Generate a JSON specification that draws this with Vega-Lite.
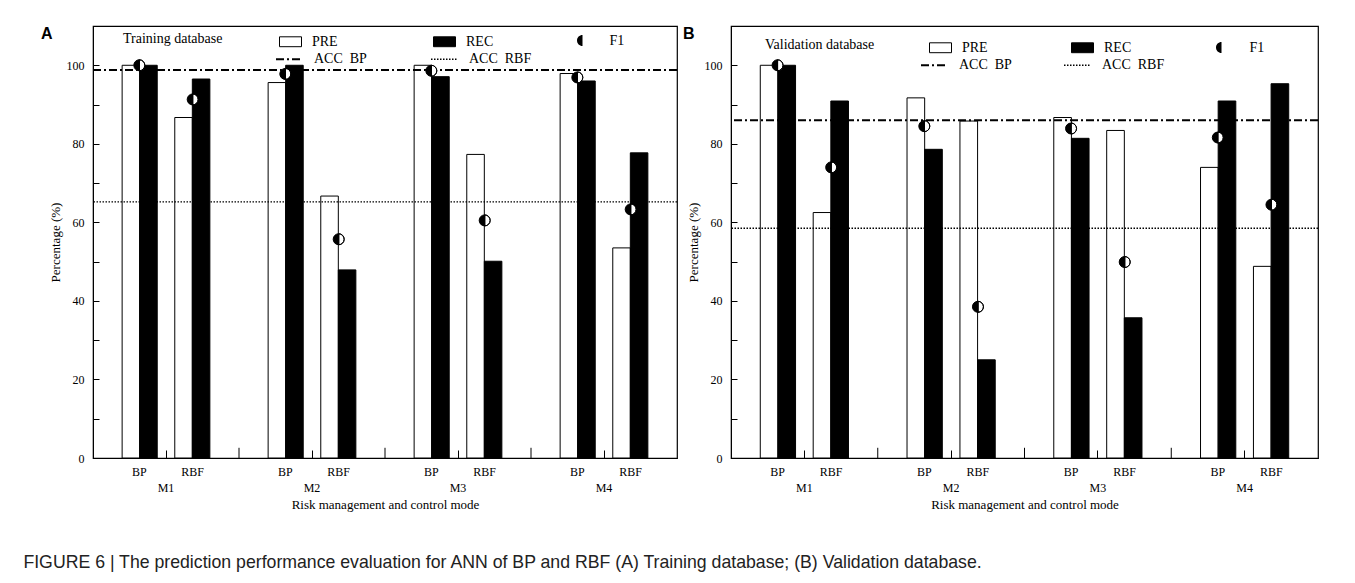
{
  "$schema": "https://vega.github.io/schema/vega-lite/v6.json",
  "background": "white",
  "padding": {"left": 23, "top": 25, "right": 5, "bottom": 5},
  "datasets": {
    "bars": [
      {"panel": "A", "group": "M1", "model": "BP", "metric": "PRE", "slot": "BP-PRE", "value": 100},
      {"panel": "A", "group": "M1", "model": "BP", "metric": "REC", "slot": "BP-REC", "value": 100},
      {"panel": "A", "group": "M1", "model": "RBF", "metric": "PRE", "slot": "RBF-PRE", "value": 86.7},
      {"panel": "A", "group": "M1", "model": "RBF", "metric": "REC", "slot": "RBF-REC", "value": 96.5},
      {"panel": "A", "group": "M2", "model": "BP", "metric": "PRE", "slot": "BP-PRE", "value": 95.6},
      {"panel": "A", "group": "M2", "model": "BP", "metric": "REC", "slot": "BP-REC", "value": 100},
      {"panel": "A", "group": "M2", "model": "RBF", "metric": "PRE", "slot": "RBF-PRE", "value": 66.7},
      {"panel": "A", "group": "M2", "model": "RBF", "metric": "REC", "slot": "RBF-REC", "value": 47.9},
      {"panel": "A", "group": "M3", "model": "BP", "metric": "PRE", "slot": "BP-PRE", "value": 100},
      {"panel": "A", "group": "M3", "model": "BP", "metric": "REC", "slot": "BP-REC", "value": 97.1},
      {"panel": "A", "group": "M3", "model": "RBF", "metric": "PRE", "slot": "RBF-PRE", "value": 77.3},
      {"panel": "A", "group": "M3", "model": "RBF", "metric": "REC", "slot": "RBF-REC", "value": 50.1},
      {"panel": "A", "group": "M4", "model": "BP", "metric": "PRE", "slot": "BP-PRE", "value": 97.9},
      {"panel": "A", "group": "M4", "model": "BP", "metric": "REC", "slot": "BP-REC", "value": 96.0},
      {"panel": "A", "group": "M4", "model": "RBF", "metric": "PRE", "slot": "RBF-PRE", "value": 53.5},
      {"panel": "A", "group": "M4", "model": "RBF", "metric": "REC", "slot": "RBF-REC", "value": 77.7},
      {"panel": "B", "group": "M1", "model": "BP", "metric": "PRE", "slot": "BP-PRE", "value": 100},
      {"panel": "B", "group": "M1", "model": "BP", "metric": "REC", "slot": "BP-REC", "value": 100},
      {"panel": "B", "group": "M1", "model": "RBF", "metric": "PRE", "slot": "RBF-PRE", "value": 62.5},
      {"panel": "B", "group": "M1", "model": "RBF", "metric": "REC", "slot": "RBF-REC", "value": 90.9},
      {"panel": "B", "group": "M2", "model": "BP", "metric": "PRE", "slot": "BP-PRE", "value": 91.7},
      {"panel": "B", "group": "M2", "model": "BP", "metric": "REC", "slot": "BP-REC", "value": 78.6},
      {"panel": "B", "group": "M2", "model": "RBF", "metric": "PRE", "slot": "RBF-PRE", "value": 85.8},
      {"panel": "B", "group": "M2", "model": "RBF", "metric": "REC", "slot": "RBF-REC", "value": 25.0},
      {"panel": "B", "group": "M3", "model": "BP", "metric": "PRE", "slot": "BP-PRE", "value": 86.7},
      {"panel": "B", "group": "M3", "model": "BP", "metric": "REC", "slot": "BP-REC", "value": 81.4},
      {"panel": "B", "group": "M3", "model": "RBF", "metric": "PRE", "slot": "RBF-PRE", "value": 83.4},
      {"panel": "B", "group": "M3", "model": "RBF", "metric": "REC", "slot": "RBF-REC", "value": 35.7},
      {"panel": "B", "group": "M4", "model": "BP", "metric": "PRE", "slot": "BP-PRE", "value": 74.0},
      {"panel": "B", "group": "M4", "model": "BP", "metric": "REC", "slot": "BP-REC", "value": 90.9},
      {"panel": "B", "group": "M4", "model": "RBF", "metric": "PRE", "slot": "RBF-PRE", "value": 48.8},
      {"panel": "B", "group": "M4", "model": "RBF", "metric": "REC", "slot": "RBF-REC", "value": 95.3}
    ],
    "f1": [
      {"panel": "A", "group": "M1", "model": "BP", "f1": 100},
      {"panel": "A", "group": "M1", "model": "RBF", "f1": 91.3},
      {"panel": "A", "group": "M2", "model": "BP", "f1": 97.8},
      {"panel": "A", "group": "M2", "model": "RBF", "f1": 55.7},
      {"panel": "A", "group": "M3", "model": "BP", "f1": 98.6},
      {"panel": "A", "group": "M3", "model": "RBF", "f1": 60.5},
      {"panel": "A", "group": "M4", "model": "BP", "f1": 96.9},
      {"panel": "A", "group": "M4", "model": "RBF", "f1": 63.3},
      {"panel": "B", "group": "M1", "model": "BP", "f1": 100},
      {"panel": "B", "group": "M1", "model": "RBF", "f1": 74.0},
      {"panel": "B", "group": "M2", "model": "BP", "f1": 84.5},
      {"panel": "B", "group": "M2", "model": "RBF", "f1": 38.5},
      {"panel": "B", "group": "M3", "model": "BP", "f1": 83.9},
      {"panel": "B", "group": "M3", "model": "RBF", "f1": 49.9},
      {"panel": "B", "group": "M4", "model": "BP", "f1": 81.6},
      {"panel": "B", "group": "M4", "model": "RBF", "f1": 64.5}
    ],
    "acc": [
      {"panel": "A", "name": "ACC\u00a0 BP", "value": 98.8},
      {"panel": "A", "name": "ACC\u00a0 RBF", "value": 65.2},
      {"panel": "B", "name": "ACC\u00a0 BP", "value": 86.0},
      {"panel": "B", "name": "ACC\u00a0 RBF", "value": 58.5}
    ],
    "bounds": [
      {"group": "M2"}, {"group": "M3"}, {"group": "M4"}
    ]
  },
  "title": {
    "text": "FIGURE 6 | The prediction performance evaluation for ANN of BP and RBF (A) Training database; (B) Validation database.",
    "orient": "bottom", "anchor": "start", "frame": "bounds",
    "font": "Liberation Sans", "fontSize": 17.7, "fontWeight": "normal", "color": "#222",
    "offset": 42, "dx": -17
  },
  "spacing": 3,
  "hconcat": [
    {
      "width": 584, "height": 432,
      "resolve": {"scale": {"xOffset": "independent"}},
      "layer": [
        {
          "data": {"name": "bars"},
          "transform": [{"filter": "datum.panel === 'A'"}],
          "mark": {"type": "bar", "stroke": "black", "strokeWidth": 1},
          "encoding": {
            "x": {"field": "group", "type": "nominal", "scale": {"domain": ["M1", "M2", "M3", "M4"], "paddingInner": 0, "paddingOuter": 0},
              "axis": {"title": "Risk management and control mode", "labelAngle": 0, "labelPadding": 32, "tickSize": -8, "titlePadding": 5}},
            "xOffset": {"field": "slot", "type": "nominal", "scale": {"domain": ["padL", "BP-PRE", "BP-REC", "gap", "RBF-PRE", "RBF-REC", "padR"], "paddingInner": 0, "paddingOuter": 0.66}},
            "y": {"field": "value", "type": "quantitative", "scale": {"domain": [0, 110], "nice": false},
              "axis": {"title": "Percentage (%)", "values": [0, 10, 20, 30, 40, 50, 60, 70, 80, 90, 100], "labelExpr": "datum.value % 20 === 0 ? datum.label : ''", "tickSize": -6, "labelPadding": 15, "titlePadding": 4}},
            "fill": {"field": "metric", "type": "nominal", "scale": {"domain": ["PRE", "REC"], "range": ["white", "black"]},
              "legend": {"title": "Training database", "orient": "none", "legendX": 30, "legendY": 4, "direction": "horizontal", "titleOrient": "left", "titlePadding": 56, "symbolType": "M-1,-0.45H1V0.45H-1Z", "symbolSize": 484, "symbolStrokeColor": "black", "symbolStrokeWidth": 1, "labelOffset": 10, "columnPadding": 93}}
          }
        },
        {
          "data": {"name": "acc"},
          "transform": [{"filter": "datum.panel === 'A'"}],
          "mark": {"type": "rule", "color": "black"},
          "encoding": {
            "y": {"field": "value", "type": "quantitative"},
            "strokeDash": {"field": "name", "type": "nominal", "scale": {"domain": ["ACC\u00a0 BP", "ACC\u00a0 RBF"], "range": [[8, 3, 2, 3], [1.5, 1.5]]},
              "legend": {"title": null, "orient": "none", "legendX": 182, "legendY": 18.5, "direction": "horizontal", "symbolType": "stroke", "symbolSize": 729, "symbolStrokeColor": "black", "symbolStrokeWidth": 1.5, "labelOffset": 10, "columnPadding": 61}},
            "strokeWidth": {"field": "name", "type": "nominal", "scale": {"domain": ["ACC\u00a0 BP", "ACC\u00a0 RBF"], "range": [2, 1.3]}, "legend": null}
          }
        },
        {
          "data": {"name": "bounds"},
          "mark": {"type": "rule", "color": "black", "strokeWidth": 1},
          "encoding": {
            "x": {"field": "group", "type": "nominal", "bandPosition": 0},
            "y": {"datum": 0},
            "y2": {"datum": 2.6},
            "opacity": {"datum": "A", "type": "nominal", "scale": {"domain": ["A"], "range": [1]},
              "legend": {"title": "A", "orient": "none", "legendX": -52, "legendY": 0, "titleFont": "Liberation Sans", "titleFontSize": 16, "titleFontWeight": "bold", "titleColor": "black", "titleBaseline": "top", "symbolType": "circle", "symbolSize": 0, "symbolStrokeWidth": 0, "symbolStrokeColor": "transparent", "symbolFillColor": "transparent", "symbolOpacity": 0, "labelOpacity": 0}}
          }
        },
        {
          "data": {"name": "f1"},
          "transform": [{"filter": "datum.panel === 'A'"}],
          "mark": {"type": "point", "shape": "circle", "filled": true, "color": "white", "size": 121, "opacity": 1},
          "encoding": {
            "x": {"field": "group", "type": "nominal"},
            "xOffset": {"field": "model", "type": "nominal", "scale": {"type": "point", "domain": ["BP", "RBF"], "padding": 0.868}},
            "y": {"field": "f1", "type": "quantitative"}
          }
        },
        {
          "data": {"name": "f1"},
          "transform": [{"filter": "datum.panel === 'A'"}],
          "mark": {"type": "point", "filled": true, "color": "black", "stroke": "black", "strokeWidth": 1, "size": 121, "opacity": 1},
          "encoding": {
            "x": {"field": "group", "type": "nominal"},
            "xOffset": {"field": "model", "type": "nominal", "scale": {"type": "point", "domain": ["BP", "RBF"], "padding": 0.868}},
            "y": {"field": "f1", "type": "quantitative"},
            "shape": {"datum": "F1", "scale": {"domain": ["F1"], "range": ["M0,-1A1,1,0,0,0,0,1Z M0,-1A1,1,0,0,1,0,1Z M0,1A1,1,0,0,0,0,-1Z"]},
              "legend": {"title": null, "orient": "none", "legendX": 482.5, "legendY": 7.5, "labelOffset": 20, "symbolSize": 121, "symbolFillColor": "black", "symbolStrokeColor": "black", "symbolStrokeWidth": 1}}
          }
        },
        {
          "data": {"name": "f1"},
          "transform": [{"filter": "datum.panel === 'A'"}],
          "mark": {"type": "text", "font": "Liberation Serif", "fontSize": 12, "baseline": "middle", "dy": 14, "color": "black"},
          "encoding": {
            "x": {"field": "group", "type": "nominal"},
            "xOffset": {"field": "model", "type": "nominal", "scale": {"type": "point", "domain": ["BP", "RBF"], "padding": 0.868}},
            "y": {"datum": 0},
            "text": {"field": "model"}
          }
        }
      ]
    },
    {
      "width": 587, "height": 432,
      "resolve": {"scale": {"xOffset": "independent"}},
      "layer": [
        {
          "data": {"name": "bars"},
          "transform": [{"filter": "datum.panel === 'B'"}],
          "mark": {"type": "bar", "stroke": "black", "strokeWidth": 1},
          "encoding": {
            "x": {"field": "group", "type": "nominal", "scale": {"domain": ["M1", "M2", "M3", "M4"], "paddingInner": 0, "paddingOuter": 0},
              "axis": {"title": "Risk management and control mode", "labelAngle": 0, "labelPadding": 32, "tickSize": -8, "titlePadding": 5}},
            "xOffset": {"field": "slot", "type": "nominal", "scale": {"domain": ["padL", "BP-PRE", "BP-REC", "gap", "RBF-PRE", "RBF-REC", "padR"], "paddingInner": 0, "paddingOuter": 0.66}},
            "y": {"field": "value", "type": "quantitative", "scale": {"domain": [0, 110], "nice": false},
              "axis": {"title": "Percentage (%)", "values": [0, 10, 20, 30, 40, 50, 60, 70, 80, 90, 100], "labelExpr": "datum.value % 20 === 0 ? datum.label : ''", "tickSize": -6, "labelPadding": 15, "titlePadding": 4}},
            "fill": {"field": "metric", "type": "nominal", "scale": {"domain": ["PRE", "REC"], "range": ["white", "black"]},
              "legend": {"title": "Validation database", "orient": "none", "legendX": 34, "legendY": 10, "direction": "horizontal", "titleOrient": "left", "titlePadding": 54, "symbolType": "M-1,-0.45H1V0.45H-1Z", "symbolSize": 484, "symbolStrokeColor": "black", "symbolStrokeWidth": 1, "labelOffset": 10, "columnPadding": 81}}
          }
        },
        {
          "data": {"name": "acc"},
          "transform": [{"filter": "datum.panel === 'B'"}],
          "mark": {"type": "rule", "color": "black"},
          "encoding": {
            "y": {"field": "value", "type": "quantitative"},
            "strokeDash": {"field": "name", "type": "nominal", "scale": {"domain": ["ACC\u00a0 BP", "ACC\u00a0 RBF"], "range": [[8, 3, 2, 3], [1.5, 1.5]]},
              "legend": {"title": null, "orient": "none", "legendX": 189, "legendY": 24.5, "direction": "horizontal", "symbolType": "stroke", "symbolSize": 729, "symbolStrokeColor": "black", "symbolStrokeWidth": 1.5, "labelOffset": 10, "columnPadding": 49}},
            "strokeWidth": {"field": "name", "type": "nominal", "scale": {"domain": ["ACC\u00a0 BP", "ACC\u00a0 RBF"], "range": [2, 1.3]}, "legend": null}
          }
        },
        {
          "data": {"name": "bounds"},
          "mark": {"type": "rule", "color": "black", "strokeWidth": 1},
          "encoding": {
            "x": {"field": "group", "type": "nominal", "bandPosition": 0},
            "y": {"datum": 0},
            "y2": {"datum": 2.6},
            "opacity": {"datum": "B", "type": "nominal", "scale": {"domain": ["B"], "range": [1]},
              "legend": {"title": "B", "orient": "none", "legendX": -48, "legendY": 0, "titleFont": "Liberation Sans", "titleFontSize": 16, "titleFontWeight": "bold", "titleColor": "black", "titleBaseline": "top", "symbolType": "circle", "symbolSize": 0, "symbolStrokeWidth": 0, "symbolStrokeColor": "transparent", "symbolFillColor": "transparent", "symbolOpacity": 0, "labelOpacity": 0}}
          }
        },
        {
          "data": {"name": "f1"},
          "transform": [{"filter": "datum.panel === 'B'"}],
          "mark": {"type": "point", "shape": "circle", "filled": true, "color": "white", "size": 121, "opacity": 1},
          "encoding": {
            "x": {"field": "group", "type": "nominal"},
            "xOffset": {"field": "model", "type": "nominal", "scale": {"type": "point", "domain": ["BP", "RBF"], "padding": 0.868}},
            "y": {"field": "f1", "type": "quantitative"}
          }
        },
        {
          "data": {"name": "f1"},
          "transform": [{"filter": "datum.panel === 'B'"}],
          "mark": {"type": "point", "filled": true, "color": "black", "stroke": "black", "strokeWidth": 1, "size": 121, "opacity": 1},
          "encoding": {
            "x": {"field": "group", "type": "nominal"},
            "xOffset": {"field": "model", "type": "nominal", "scale": {"type": "point", "domain": ["BP", "RBF"], "padding": 0.868}},
            "y": {"field": "f1", "type": "quantitative"},
            "shape": {"datum": "F1", "scale": {"domain": ["F1"], "range": ["M0,-1A1,1,0,0,0,0,1Z M0,-1A1,1,0,0,1,0,1Z M0,1A1,1,0,0,0,0,-1Z"]},
              "legend": {"title": null, "orient": "none", "legendX": 483.5, "legendY": 14.5, "labelOffset": 21, "symbolSize": 121, "symbolFillColor": "black", "symbolStrokeColor": "black", "symbolStrokeWidth": 1}}
          }
        },
        {
          "data": {"name": "f1"},
          "transform": [{"filter": "datum.panel === 'B'"}],
          "mark": {"type": "text", "font": "Liberation Serif", "fontSize": 12, "baseline": "middle", "dy": 14, "color": "black"},
          "encoding": {
            "x": {"field": "group", "type": "nominal"},
            "xOffset": {"field": "model", "type": "nominal", "scale": {"type": "point", "domain": ["BP", "RBF"], "padding": 0.868}},
            "y": {"datum": 0},
            "text": {"field": "model"}
          }
        }
      ]
    }
  ],
  "resolve": {
    "scale": {"x": "independent", "y": "independent", "fill": "independent", "shape": "independent", "strokeDash": "independent", "strokeWidth": "independent", "opacity": "independent"},
    "legend": {"fill": "independent", "shape": "independent", "strokeDash": "independent", "opacity": "independent"}
  },
  "config": {
    "view": {"stroke": "black", "strokeWidth": 1.2},
    "axis": {"domainColor": "black", "tickColor": "black", "labelColor": "black", "titleColor": "black", "labelFont": "Liberation Serif", "titleFont": "Liberation Serif", "labelFontSize": 12, "titleFontSize": 13, "titleFontWeight": "normal", "grid": false},
    "legend": {"labelFont": "Liberation Serif", "labelFontSize": 14, "labelColor": "black", "titleFont": "Liberation Serif", "titleFontSize": 14, "titleFontWeight": "normal", "titleColor": "black"}
  }
}
